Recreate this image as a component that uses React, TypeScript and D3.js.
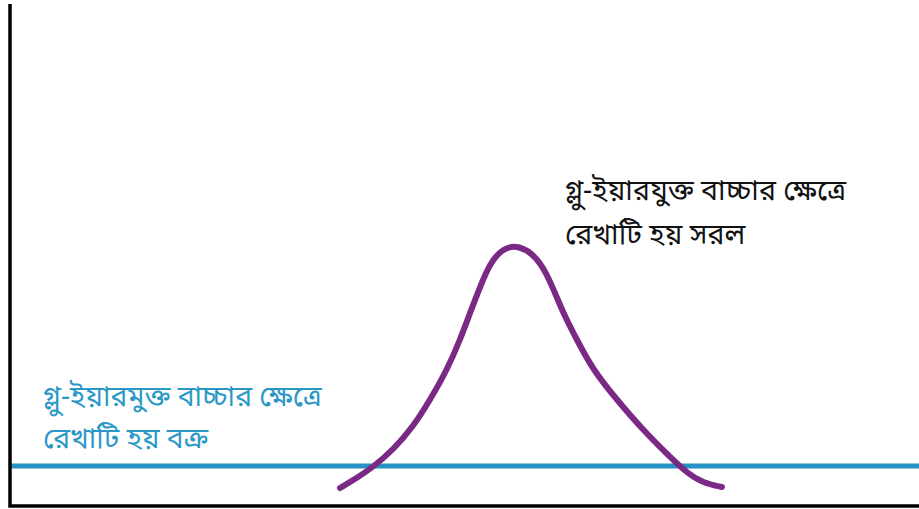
import { useEffect, useRef } from "react";
import * as d3 from "d3";

// bell curve (purple) — x position, height above the bottom axis
const curveX = [330, 347, 363, 383, 403, 420, 437, 450, 460, 470, 480, 493, 509, 527, 540, 553, 567, 583, 607, 633, 660, 677, 693, 712];
const curveY = [18, 28, 39, 56, 79, 106, 136, 166, 193, 219, 243, 258, 261, 249, 226, 193, 166, 136, 106, 76, 49, 33, 23, 19];

// flat line (blue)
const flatLevel = 40;

const labelTop = ["গ্লু-ইয়ারযুক্ত বাচ্চার ক্ষেত্রে", "রেখাটি হয় সরল"];
const labelBottom = ["গ্লু-ইয়ারমুক্ত বাচ্চার ক্ষেত্রে", "রেখাটি হয় বক্র"];

const W = 919;
const H = 509;

export default function App() {
  const ref = useRef<SVGSVGElement | null>(null);

  useEffect(() => {
    if (!ref.current) return;
    const svg = d3.select(ref.current);
    svg.selectAll("*").remove();

    const x = d3.scaleLinear().domain([0, 909]).range([10, 919]);
    const y = d3.scaleLinear().domain([0, 502]).range([506, 4]);

    svg.append("rect").attr("width", W).attr("height", H).attr("fill", "#fff");

    // blue flat line
    svg
      .append("line")
      .attr("x1", x(0))
      .attr("x2", x(909))
      .attr("y1", y(flatLevel))
      .attr("y2", y(flatLevel))
      .attr("stroke", "#2593c3")
      .attr("stroke-width", 5);

    // purple curve
    const pts = curveX.map((v, i) => [v, curveY[i]] as [number, number]);
    const line = d3
      .line<[number, number]>()
      .x((d) => x(d[0]))
      .y((d) => y(d[1]))
      .curve(d3.curveBasis);
    svg
      .append("path")
      .attr("d", line(pts)!)
      .attr("fill", "none")
      .attr("stroke", "#7a2a84")
      .attr("stroke-width", 6)
      .attr("stroke-linecap", "round");

    // axes (plain lines, no ticks)
    svg
      .append("path")
      .attr("d", `M${x(0)},${y(502)}V${y(0)}H${x(909)}`)
      .attr("fill", "none")
      .attr("stroke", "#000")
      .attr("stroke-width", 3.5);

    const font = "'Noto Sans Bengali', 'Noto Sans', sans-serif";

    const t1 = svg
      .append("text")
      .attr("font-family", font)
      .attr("font-size", 28.5)
      .attr("fill", "#111");
    labelTop.forEach((s, i) =>
      t1.append("tspan").attr("x", 565).attr("y", 200 + i * 44).text(s)
    );

    const t2 = svg
      .append("text")
      .attr("font-family", font)
      .attr("font-size", 28.3)
      .attr("fill", "#2a98c6");
    labelBottom.forEach((s, i) =>
      t2.append("tspan").attr("x", 43).attr("y", 406 + i * 42).text(s)
    );
  }, []);

  return (
    <svg
      ref={ref}
      width={W}
      height={H}
      style={{ position: "absolute", left: 0, top: 0 }}
    />
  );
}
